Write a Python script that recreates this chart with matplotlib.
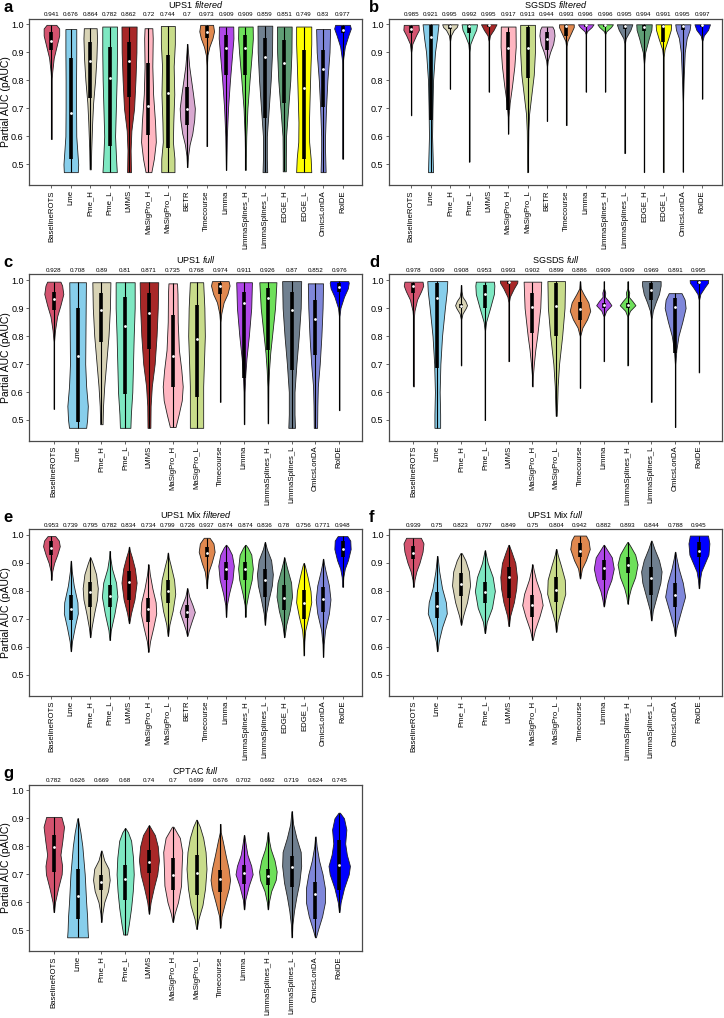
import numpy as np
import matplotlib
matplotlib.use('Agg')
import matplotlib.pyplot as plt

plt.rcParams['font.family'] = ['Liberation Sans', 'DejaVu Sans']
plt.rcParams['mathtext.fontset'] = 'custom'
plt.rcParams['mathtext.rm'] = 'Liberation Sans'
plt.rcParams['mathtext.it'] = 'Liberation Sans:italic'

# ---------------- data ----------------
methods_16 = ['BaselineROTS', 'Lme', 'Pme_H', 'Pme_L', 'LMMS', 'MaSigPro_H', 'MaSigPro_L', 'BETR',
              'Timecourse', 'Limma', 'LimmaSplines_H', 'LimmaSplines_L', 'EDGE_H', 'EDGE_L',
              'OmicsLonDA', 'RolDE']
methods_13 = ['BaselineROTS', 'Lme', 'Pme_H', 'Pme_L', 'LMMS', 'MaSigPro_H', 'MaSigPro_L',
              'Timecourse', 'Limma', 'LimmaSplines_H', 'LimmaSplines_L', 'OmicsLonDA', 'RolDE']

colors = {'BaselineROTS': '#D4536F', 'Lme': '#87CEEB', 'Pme_H': '#D8D3B5', 'Pme_L': '#7EE8C2',
          'LMMS': '#A82828', 'MaSigPro_H': '#FFB6C1', 'MaSigPro_L': '#C8DC8A', 'BETR': '#D8A8D0',
          'Timecourse': '#E0884F', 'Limma': '#B048E8', 'LimmaSplines_H': '#6EE05A',
          'LimmaSplines_L': '#708090', 'EDGE_H': '#5F9E75', 'EDGE_L': '#FFFF00',
          'OmicsLonDA': '#7F87DA', 'RolDE': '#0000FF'}

# Panel a: UPS1 filtered
a_means = [0.941, 0.676, 0.864, 0.782, 0.862, 0.72, 0.744, 0.7, 0.973, 0.909, 0.909, 0.859, 0.851, 0.749, 0.83, 0.977]
a_medians = [0.942, 0.682, 0.869, 0.807, 0.869, 0.71, 0.755, 0.698, 0.974, 0.917, 0.917, 0.885, 0.863, 0.774, 0.839, 0.98]
a_q1 = [0.908, 0.518, 0.736, 0.564, 0.742, 0.605, 0.56, 0.64, 0.95, 0.819, 0.819, 0.664, 0.718, 0.52, 0.706, 0.968]
a_q3 = [0.974, 0.879, 0.938, 0.92, 0.938, 0.861, 0.89, 0.777, 0.994, 0.962, 0.962, 0.95, 0.944, 0.908, 0.908, 0.994]
a_shapes = [
    [(0.59, 0.01), (0.80, 0.01), (0.83, 0.04), (0.88, 0.12), (0.92, 0.26), (0.96, 0.40), (0.985, 0.40), (0.998, 0.25)],
    [(0.472, 0.36), (0.50, 0.38), (0.55, 0.33), (0.60, 0.28), (0.70, 0.27), (0.80, 0.27), (0.90, 0.28), (0.983, 0.28)],
    [(0.482, 0.03), (0.55, 0.05), (0.65, 0.10), (0.72, 0.15), (0.80, 0.25), (0.88, 0.32), (0.95, 0.35), (0.986, 0.33)],
    [(0.472, 0.37), (0.52, 0.33), (0.60, 0.28), (0.70, 0.32), (0.80, 0.36), (0.90, 0.38), (0.992, 0.38)],
    [(0.472, 0.10), (0.55, 0.08), (0.62, 0.12), (0.70, 0.26), (0.80, 0.33), (0.90, 0.38), (0.992, 0.39)],
    [(0.472, 0.15), (0.52, 0.28), (0.58, 0.38), (0.65, 0.34), (0.75, 0.24), (0.85, 0.20), (0.95, 0.22), (0.986, 0.20)],
    [(0.472, 0.34), (0.52, 0.34), (0.58, 0.26), (0.65, 0.28), (0.75, 0.33), (0.85, 0.30), (0.93, 0.36), (0.994, 0.36)],
    [(0.49, 0.01), (0.53, 0.04), (0.57, 0.12), (0.61, 0.26), (0.66, 0.36), (0.70, 0.39), (0.75, 0.30), (0.80, 0.20), (0.85, 0.10), (0.90, 0.04), (0.93, 0.01)],
    [(0.565, 0.01), (0.85, 0.01), (0.89, 0.04), (0.92, 0.14), (0.95, 0.30), (0.975, 0.38), (0.998, 0.33)],
    [(0.48, 0.01), (0.60, 0.04), (0.70, 0.10), (0.80, 0.20), (0.90, 0.32), (0.95, 0.38), (0.992, 0.37)],
    [(0.48, 0.01), (0.60, 0.04), (0.70, 0.10), (0.80, 0.21), (0.90, 0.33), (0.95, 0.38), (0.992, 0.37)],
    [(0.472, 0.12), (0.52, 0.10), (0.60, 0.10), (0.70, 0.20), (0.80, 0.30), (0.90, 0.37), (0.995, 0.38)],
    [(0.475, 0.08), (0.52, 0.08), (0.60, 0.09), (0.70, 0.20), (0.80, 0.31), (0.90, 0.37), (0.992, 0.38)],
    [(0.472, 0.39), (0.52, 0.36), (0.58, 0.28), (0.65, 0.27), (0.75, 0.31), (0.85, 0.35), (0.93, 0.39), (0.992, 0.39)],
    [(0.472, 0.13), (0.55, 0.10), (0.60, 0.10), (0.70, 0.15), (0.80, 0.22), (0.90, 0.33), (0.983, 0.36)],
    [(0.52, 0.01), (0.86, 0.01), (0.88, 0.04), (0.92, 0.12), (0.96, 0.30), (0.985, 0.43), (0.998, 0.38)],
]

# Panel b: SGSDS filtered
b_means = [0.985, 0.921, 0.995, 0.992, 0.995, 0.917, 0.913, 0.944, 0.993, 0.996, 0.996, 0.995, 0.994, 0.991, 0.995, 0.997]
b_medians = [0.982, 0.956, 0.995, 0.993, 0.998, 0.917, 0.914, 0.946, 0.994, 0.998, 0.998, 0.995, 0.99, 0.994, 0.995, 0.998]
b_q1 = [0.968, 0.66, 0.985, 0.968, 0.99, 0.694, 0.81, 0.908, 0.96, 0.992, 0.992, 0.985, 0.975, 0.938, 0.98, 0.99]
b_q3 = [0.994, 0.998, 0.999, 0.998, 0.999, 0.974, 0.99, 0.974, 0.999, 0.999, 0.999, 0.999, 0.999, 0.998, 0.999, 0.999]
b_shapes = [
    [(0.675, 0.01), (0.90, 0.01), (0.93, 0.06), (0.96, 0.25), (0.98, 0.40), (0.998, 0.38)],
    [(0.472, 0.13), (0.50, 0.12), (0.60, 0.08), (0.70, 0.10), (0.80, 0.13), (0.90, 0.23), (0.95, 0.33), (1.0, 0.41)],
    [(0.77, 0.01), (0.94, 0.01), (0.96, 0.05), (0.98, 0.20), (0.99, 0.35), (1.0, 0.40)],
    [(0.51, 0.01), (0.90, 0.01), (0.93, 0.05), (0.96, 0.22), (0.98, 0.35), (1.0, 0.40)],
    [(0.76, 0.01), (0.94, 0.01), (0.96, 0.06), (0.98, 0.25), (1.0, 0.40)],
    [(0.61, 0.01), (0.67, 0.02), (0.72, 0.08), (0.78, 0.20), (0.85, 0.32), (0.92, 0.39), (0.992, 0.38)],
    [(0.472, 0.02), (0.56, 0.03), (0.62, 0.04), (0.68, 0.08), (0.75, 0.20), (0.82, 0.32), (0.90, 0.38), (0.998, 0.38)],
    [(0.655, 0.01), (0.85, 0.01), (0.87, 0.04), (0.90, 0.16), (0.93, 0.32), (0.96, 0.39), (0.98, 0.36), (0.992, 0.28)],
    [(0.64, 0.01), (0.92, 0.01), (0.94, 0.05), (0.97, 0.25), (0.99, 0.38), (1.0, 0.38)],
    [(0.76, 0.01), (0.965, 0.01), (0.975, 0.06), (0.99, 0.30), (1.0, 0.40)],
    [(0.76, 0.01), (0.965, 0.01), (0.975, 0.06), (0.99, 0.30), (1.0, 0.40)],
    [(0.54, 0.01), (0.93, 0.01), (0.95, 0.06), (0.98, 0.30), (1.0, 0.40)],
    [(0.472, 0.01), (0.86, 0.01), (0.90, 0.06), (0.95, 0.25), (0.98, 0.38), (1.0, 0.40)],
    [(0.472, 0.01), (0.88, 0.01), (0.91, 0.06), (0.95, 0.25), (0.98, 0.38), (1.0, 0.40)],
    [(0.474, 0.01), (0.72, 0.01), (0.80, 0.04), (0.90, 0.10), (0.95, 0.20), (0.98, 0.35), (1.0, 0.39)],
    [(0.735, 0.01), (0.94, 0.01), (0.96, 0.08), (0.98, 0.30), (1.0, 0.40)],
]

# Panel c: UPS1 full
c_means = [0.928, 0.708, 0.89, 0.81, 0.871, 0.735, 0.768, 0.974, 0.911, 0.926, 0.87, 0.852, 0.976]
c_medians = [0.931, 0.728, 0.893, 0.835, 0.881, 0.728, 0.791, 0.98, 0.917, 0.934, 0.893, 0.859, 0.976]
c_q1 = [0.893, 0.493, 0.779, 0.594, 0.755, 0.618, 0.582, 0.95, 0.65, 0.75, 0.678, 0.731, 0.958]
c_q3 = [0.958, 0.9, 0.952, 0.94, 0.952, 0.875, 0.91, 0.99, 0.958, 0.97, 0.958, 0.928, 0.99]
c_shapes = [
    [(0.54, 0.01), (0.78, 0.01), (0.82, 0.05), (0.87, 0.14), (0.91, 0.28), (0.95, 0.40), (0.98, 0.35), (0.994, 0.28)],
    [(0.472, 0.36), (0.50, 0.40), (0.55, 0.43), (0.62, 0.36), (0.70, 0.32), (0.80, 0.33), (0.90, 0.34), (0.992, 0.35)],
    [(0.485, 0.05), (0.55, 0.07), (0.62, 0.12), (0.70, 0.20), (0.80, 0.30), (0.90, 0.36), (0.992, 0.38)],
    [(0.472, 0.22), (0.52, 0.24), (0.60, 0.30), (0.70, 0.33), (0.80, 0.36), (0.90, 0.40), (0.992, 0.40)],
    [(0.472, 0.06), (0.55, 0.07), (0.62, 0.12), (0.70, 0.24), (0.80, 0.32), (0.90, 0.37), (0.992, 0.39)],
    [(0.475, 0.12), (0.52, 0.25), (0.57, 0.38), (0.62, 0.42), (0.68, 0.36), (0.75, 0.26), (0.85, 0.21), (0.95, 0.20), (0.988, 0.18)],
    [(0.472, 0.28), (0.55, 0.28), (0.62, 0.28), (0.70, 0.31), (0.80, 0.35), (0.90, 0.33), (0.992, 0.28)],
    [(0.565, 0.01), (0.85, 0.01), (0.88, 0.04), (0.92, 0.14), (0.95, 0.30), (0.98, 0.39), (0.996, 0.35)],
    [(0.485, 0.01), (0.60, 0.02), (0.66, 0.05), (0.72, 0.10), (0.80, 0.20), (0.90, 0.30), (0.992, 0.33)],
    [(0.488, 0.01), (0.62, 0.02), (0.68, 0.05), (0.74, 0.10), (0.82, 0.20), (0.90, 0.30), (0.992, 0.36)],
    [(0.472, 0.14), (0.52, 0.12), (0.60, 0.12), (0.70, 0.20), (0.80, 0.30), (0.90, 0.38), (0.996, 0.40)],
    [(0.472, 0.07), (0.55, 0.08), (0.62, 0.10), (0.70, 0.18), (0.80, 0.25), (0.90, 0.30), (0.988, 0.32)],
    [(0.535, 0.01), (0.87, 0.01), (0.90, 0.05), (0.94, 0.20), (0.97, 0.36), (0.99, 0.40), (0.996, 0.38)],
]

# Panel d: SGSDS full
d_means = [0.978, 0.909, 0.908, 0.953, 0.993, 0.902, 0.899, 0.886, 0.909, 0.909, 0.969, 0.891, 0.995]
d_medians = [0.98, 0.934, 0.908, 0.95, 0.994, 0.902, 0.907, 0.895, 0.91, 0.91, 0.964, 0.902, 0.994]
d_q1 = [0.952, 0.684, 0.9, 0.899, 0.985, 0.809, 0.80, 0.857, 0.9, 0.9, 0.928, 0.74, 0.985]
d_q3 = [0.988, 0.988, 0.915, 0.982, 0.998, 0.952, 0.988, 0.922, 0.918, 0.918, 0.988, 0.934, 0.998]
d_shapes = [
    [(0.62, 0.01), (0.86, 0.01), (0.89, 0.04), (0.93, 0.15), (0.96, 0.32), (0.98, 0.41), (0.994, 0.38)],
    [(0.472, 0.12), (0.52, 0.12), (0.60, 0.10), (0.70, 0.13), (0.80, 0.20), (0.90, 0.32), (0.96, 0.40), (0.996, 0.42)],
    [(0.695, 0.01), (0.86, 0.01), (0.88, 0.06), (0.90, 0.20), (0.91, 0.25), (0.925, 0.18), (0.94, 0.06), (0.96, 0.02), (0.982, 0.01)],
    [(0.50, 0.01), (0.82, 0.01), (0.85, 0.05), (0.90, 0.22), (0.95, 0.38), (0.98, 0.40), (0.994, 0.38)],
    [(0.71, 0.01), (0.92, 0.01), (0.94, 0.05), (0.97, 0.22), (0.99, 0.36), (0.998, 0.37)],
    [(0.62, 0.01), (0.66, 0.02), (0.70, 0.06), (0.75, 0.12), (0.80, 0.20), (0.90, 0.33), (0.994, 0.37)],
    [(0.515, 0.02), (0.56, 0.04), (0.62, 0.06), (0.70, 0.12), (0.80, 0.25), (0.90, 0.35), (0.996, 0.37)],
    [(0.615, 0.01), (0.80, 0.01), (0.83, 0.10), (0.86, 0.30), (0.89, 0.43), (0.92, 0.35), (0.95, 0.15), (0.97, 0.03), (0.995, 0.01)],
    [(0.71, 0.01), (0.87, 0.01), (0.89, 0.10), (0.91, 0.32), (0.925, 0.20), (0.94, 0.05), (0.955, 0.06), (0.97, 0.01), (0.995, 0.01)],
    [(0.695, 0.01), (0.87, 0.01), (0.89, 0.10), (0.91, 0.33), (0.925, 0.20), (0.94, 0.05), (0.955, 0.07), (0.97, 0.01), (0.995, 0.01)],
    [(0.565, 0.01), (0.86, 0.01), (0.89, 0.06), (0.92, 0.18), (0.95, 0.32), (0.98, 0.39), (0.996, 0.39)],
    [(0.475, 0.01), (0.70, 0.01), (0.75, 0.05), (0.80, 0.14), (0.85, 0.30), (0.90, 0.44), (0.93, 0.40), (0.953, 0.27)],
    [(0.67, 0.01), (0.93, 0.01), (0.95, 0.06), (0.975, 0.25), (0.99, 0.38), (1.0, 0.39)],
]

# Panel e: UPS1 Mix filtered
e_means = [0.953, 0.739, 0.795, 0.782, 0.834, 0.734, 0.799, 0.726, 0.937, 0.874, 0.874, 0.836, 0.78, 0.756, 0.771, 0.948]
e_medians = [0.952, 0.736, 0.795, 0.782, 0.833, 0.735, 0.80, 0.724, 0.937, 0.877, 0.877, 0.839, 0.776, 0.758, 0.77, 0.949]
e_q1 = [0.93, 0.696, 0.744, 0.742, 0.768, 0.69, 0.756, 0.702, 0.92, 0.839, 0.839, 0.78, 0.733, 0.699, 0.726, 0.92]
e_q3 = [0.98, 0.786, 0.833, 0.821, 0.873, 0.774, 0.839, 0.75, 0.958, 0.905, 0.905, 0.88, 0.82, 0.804, 0.815, 0.98]
e_shapes = [
    [(0.84, 0.01), (0.87, 0.04), (0.90, 0.14), (0.93, 0.30), (0.96, 0.43), (0.98, 0.38), (0.996, 0.20)],
    [(0.585, 0.01), (0.62, 0.06), (0.67, 0.20), (0.72, 0.36), (0.76, 0.34), (0.82, 0.15), (0.87, 0.05), (0.908, 0.01)],
    [(0.635, 0.01), (0.67, 0.07), (0.72, 0.20), (0.77, 0.35), (0.81, 0.39), (0.86, 0.30), (0.90, 0.12), (0.92, 0.01)],
    [(0.625, 0.01), (0.66, 0.06), (0.72, 0.25), (0.78, 0.40), (0.83, 0.33), (0.88, 0.12), (0.92, 0.03), (0.943, 0.01)],
    [(0.685, 0.01), (0.72, 0.10), (0.77, 0.28), (0.83, 0.39), (0.88, 0.30), (0.92, 0.15), (0.945, 0.04), (0.958, 0.01)],
    [(0.583, 0.01), (0.62, 0.08), (0.67, 0.25), (0.72, 0.40), (0.76, 0.37), (0.81, 0.20), (0.86, 0.07), (0.895, 0.01)],
    [(0.64, 0.01), (0.68, 0.08), (0.73, 0.25), (0.79, 0.38), (0.84, 0.32), (0.89, 0.15), (0.92, 0.04), (0.937, 0.01)],
    [(0.64, 0.01), (0.66, 0.08), (0.69, 0.22), (0.725, 0.39), (0.75, 0.27), (0.78, 0.10), (0.81, 0.01)],
    [(0.81, 0.01), (0.84, 0.04), (0.87, 0.10), (0.90, 0.25), (0.94, 0.41), (0.97, 0.35), (0.99, 0.15)],
    [(0.708, 0.01), (0.75, 0.04), (0.79, 0.15), (0.84, 0.33), (0.89, 0.40), (0.93, 0.30), (0.955, 0.12), (0.965, 0.01)],
    [(0.708, 0.01), (0.75, 0.04), (0.79, 0.15), (0.84, 0.32), (0.88, 0.38), (0.93, 0.30), (0.955, 0.12), (0.965, 0.01)],
    [(0.68, 0.01), (0.72, 0.06), (0.77, 0.20), (0.82, 0.36), (0.86, 0.41), (0.91, 0.32), (0.95, 0.10), (0.975, 0.01)],
    [(0.635, 0.01), (0.68, 0.10), (0.73, 0.28), (0.78, 0.40), (0.83, 0.35), (0.88, 0.15), (0.91, 0.04), (0.92, 0.01)],
    [(0.57, 0.01), (0.62, 0.03), (0.66, 0.08), (0.71, 0.25), (0.76, 0.39), (0.80, 0.35), (0.85, 0.20), (0.89, 0.06), (0.90, 0.01)],
    [(0.565, 0.01), (0.61, 0.03), (0.66, 0.10), (0.72, 0.30), (0.77, 0.38), (0.82, 0.30), (0.87, 0.13), (0.90, 0.04), (0.915, 0.01)],
    [(0.815, 0.01), (0.85, 0.04), (0.88, 0.12), (0.91, 0.28), (0.95, 0.42), (0.98, 0.40), (0.996, 0.25)],
]

# Panel f: UPS1 Mix full
f_means = [0.939, 0.75, 0.823, 0.797, 0.849, 0.75, 0.804, 0.942, 0.882, 0.893, 0.844, 0.788, 0.945]
f_medians = [0.937, 0.746, 0.824, 0.795, 0.849, 0.75, 0.804, 0.943, 0.881, 0.893, 0.845, 0.786, 0.943]
f_q1 = [0.915, 0.702, 0.781, 0.756, 0.774, 0.706, 0.762, 0.92, 0.839, 0.863, 0.786, 0.744, 0.92]
f_q3 = [0.962, 0.798, 0.863, 0.833, 0.887, 0.786, 0.851, 0.97, 0.91, 0.923, 0.887, 0.827, 0.975]
f_shapes = [
    [(0.815, 0.01), (0.84, 0.04), (0.87, 0.12), (0.90, 0.25), (0.94, 0.38), (0.97, 0.42), (0.99, 0.31)],
    [(0.585, 0.01), (0.62, 0.06), (0.67, 0.20), (0.72, 0.40), (0.76, 0.36), (0.81, 0.20), (0.87, 0.08), (0.925, 0.01)],
    [(0.68, 0.01), (0.71, 0.08), (0.76, 0.25), (0.82, 0.38), (0.87, 0.33), (0.91, 0.18), (0.935, 0.03)],
    [(0.65, 0.01), (0.69, 0.08), (0.74, 0.30), (0.80, 0.42), (0.85, 0.33), (0.90, 0.12), (0.945, 0.01)],
    [(0.675, 0.01), (0.71, 0.06), (0.76, 0.22), (0.81, 0.32), (0.85, 0.35), (0.90, 0.28), (0.94, 0.12), (0.965, 0.01)],
    [(0.625, 0.01), (0.66, 0.10), (0.71, 0.30), (0.75, 0.43), (0.79, 0.35), (0.84, 0.15), (0.88, 0.04), (0.895, 0.01)],
    [(0.655, 0.01), (0.69, 0.06), (0.74, 0.22), (0.79, 0.38), (0.84, 0.36), (0.89, 0.20), (0.93, 0.06), (0.95, 0.01)],
    [(0.845, 0.01), (0.86, 0.04), (0.88, 0.08), (0.91, 0.25), (0.95, 0.41), (0.98, 0.36), (0.998, 0.25)],
    [(0.745, 0.01), (0.77, 0.06), (0.80, 0.14), (0.84, 0.32), (0.88, 0.42), (0.92, 0.34), (0.95, 0.12), (0.965, 0.01)],
    [(0.755, 0.01), (0.78, 0.05), (0.81, 0.14), (0.85, 0.32), (0.895, 0.42), (0.93, 0.32), (0.96, 0.12), (0.975, 0.01)],
    [(0.695, 0.01), (0.73, 0.06), (0.78, 0.22), (0.83, 0.38), (0.87, 0.43), (0.91, 0.32), (0.95, 0.13), (0.98, 0.01)],
    [(0.64, 0.01), (0.67, 0.06), (0.72, 0.22), (0.78, 0.42), (0.83, 0.32), (0.88, 0.15), (0.92, 0.05), (0.94, 0.01)],
    [(0.81, 0.01), (0.84, 0.04), (0.87, 0.10), (0.90, 0.25), (0.93, 0.40), (0.97, 0.44), (0.998, 0.38)],
]

# Panel g: CPTAC full
g_means = [0.782, 0.626, 0.669, 0.68, 0.74, 0.7, 0.699, 0.676, 0.702, 0.692, 0.719, 0.624, 0.745]
g_medians = [0.796, 0.622, 0.671, 0.685, 0.745, 0.697, 0.703, 0.685, 0.705, 0.693, 0.727, 0.629, 0.733]
g_q1 = [0.709, 0.542, 0.643, 0.607, 0.703, 0.643, 0.625, 0.637, 0.667, 0.661, 0.655, 0.542, 0.643]
g_q3 = [0.842, 0.718, 0.697, 0.733, 0.786, 0.757, 0.768, 0.715, 0.733, 0.72, 0.765, 0.673, 0.822]
g_shapes = [
    [(0.565, 0.01), (0.60, 0.05), (0.65, 0.18), (0.70, 0.33), (0.73, 0.35), (0.77, 0.28), (0.82, 0.36), (0.87, 0.43), (0.905, 0.32)],
    [(0.475, 0.44), (0.50, 0.42), (0.55, 0.40), (0.60, 0.36), (0.70, 0.30), (0.75, 0.25), (0.80, 0.20), (0.85, 0.12), (0.90, 0.01)],
    [(0.53, 0.01), (0.56, 0.04), (0.60, 0.12), (0.64, 0.28), (0.68, 0.35), (0.72, 0.30), (0.75, 0.12), (0.785, 0.01)],
    [(0.485, 0.08), (0.52, 0.15), (0.58, 0.25), (0.64, 0.32), (0.70, 0.36), (0.76, 0.33), (0.82, 0.25), (0.85, 0.12), (0.865, 0.01)],
    [(0.56, 0.01), (0.60, 0.07), (0.65, 0.20), (0.70, 0.35), (0.75, 0.42), (0.80, 0.37), (0.84, 0.25), (0.875, 0.01)],
    [(0.53, 0.01), (0.56, 0.08), (0.60, 0.22), (0.66, 0.35), (0.72, 0.37), (0.78, 0.40), (0.83, 0.30), (0.87, 0.03)],
    [(0.505, 0.01), (0.54, 0.08), (0.59, 0.25), (0.65, 0.36), (0.72, 0.42), (0.78, 0.38), (0.83, 0.28), (0.87, 0.14), (0.895, 0.01)],
    [(0.51, 0.01), (0.55, 0.05), (0.60, 0.20), (0.65, 0.36), (0.68, 0.41), (0.72, 0.35), (0.77, 0.22), (0.82, 0.10), (0.85, 0.02), (0.88, 0.01)],
    [(0.575, 0.01), (0.61, 0.05), (0.66, 0.20), (0.70, 0.36), (0.73, 0.30), (0.77, 0.14), (0.80, 0.08), (0.84, 0.01)],
    [(0.575, 0.01), (0.60, 0.04), (0.64, 0.14), (0.68, 0.33), (0.71, 0.37), (0.75, 0.28), (0.79, 0.12), (0.82, 0.05), (0.85, 0.01)],
    [(0.475, 0.01), (0.52, 0.03), (0.57, 0.10), (0.62, 0.20), (0.67, 0.32), (0.73, 0.40), (0.78, 0.38), (0.83, 0.20), (0.88, 0.06), (0.925, 0.01)],
    [(0.475, 0.02), (0.50, 0.10), (0.55, 0.28), (0.60, 0.40), (0.65, 0.40), (0.70, 0.30), (0.75, 0.15), (0.80, 0.05), (0.835, 0.01)],
    [(0.565, 0.01), (0.60, 0.06), (0.65, 0.20), (0.70, 0.40), (0.73, 0.45), (0.77, 0.32), (0.81, 0.25), (0.86, 0.30), (0.90, 0.20), (0.92, 0.03)],
]

y_ticks = [0.5, 0.6, 0.7, 0.8, 0.9, 1.0]
y_tick_labels = ['0.5', '0.6', '0.7', '0.8', '0.9', '1.0']

# ---------------- figure ----------------
W, H = 724, 1018
fig = plt.figure(figsize=(W / 100, H / 100), dpi=100)
AX_W, AX_H = 333.0, 166.6
SPINE = '#4a4a4a'


def draw_panel(letter, left_px, top_px, methods, means, medians, q1, q3, shapes, title, ylabel, pads):
    ax = fig.add_axes([left_px / W, 1 - (top_px + AX_H) / H, AX_W / W, AX_H / H])
    n = len(methods)
    pos = np.arange(n)
    stats, widths = [], []
    for sh, med, mu in zip(shapes, medians, means):
        ys = np.array([p[0] for p in sh])
        ws = np.array([p[1] for p in sh])
        stats.append(dict(coords=ys, vals=ws, mean=mu, median=med, min=ys[0], max=ys[-1]))
        widths.append(2 * ws.max())
    parts = ax.violin(stats, positions=pos, widths=widths, showmeans=False,
                      showextrema=False, showmedians=False)
    for body, m in zip(parts['bodies'], methods):
        body.set_facecolor(colors[m])
        body.set_edgecolor('#222222')
        body.set_linewidth(0.6)
        body.set_alpha(1)
        body.set_zorder(2)
    ax.vlines(pos, [s['min'] for s in stats], [s['max'] for s in stats],
              color='black', lw=0.8, zorder=3)
    ax.vlines(pos, q1, q3, color='black', lw=2.6, zorder=4)
    ax.scatter(pos, medians, s=4, c='white', zorder=5, linewidths=0)

    ax.set_xlim(-pads[0], n - 1 + pads[1])
    ax.set_ylim(0.425, 1.02)
    ax.set_yticks(y_ticks)
    ax.set_yticklabels(y_tick_labels)
    ax.set_xticks(pos)
    ax.set_xticklabels(methods, rotation=90)
    ax.tick_params(axis='both', length=2.5, width=0.6, color=SPINE)
    ax.tick_params(axis='x', labelsize=5.6, pad=1.0)
    ax.tick_params(axis='y', labelsize=6.5, pad=1.5)
    for sp in ax.spines.values():
        sp.set_color(SPINE)
        sp.set_linewidth(0.9)
    if ylabel:
        ax.set_ylabel('Partial AUC (pAUC)', fontsize=7.5)
        ax.yaxis.set_label_coords(-0.056, 0.5)
    for i, v in enumerate(means):
        ax.text(i, 1.008, str(v), transform=ax.get_xaxis_transform(), ha='center',
                va='bottom', fontsize=4.5)
    ax.text(0.5, 1.0666, title, transform=ax.transAxes, ha='center', va='baseline', fontsize=6.5)
    lx = 3 if left_px < 200 else 369
    fig.text(lx / W, 1 - (top_px - 7) / H, letter, fontsize=12, fontweight='bold',
             ha='left', va='baseline')
    return ax


P16 = (1.14, 1.02)
P13 = (1.03, 0.97)
draw_panel('a', 29.3, 18.7, methods_16, a_means, a_medians, a_q1, a_q3, a_shapes,
           'UPS1 $\\mathit{filtered}$', True, P16)
draw_panel('b', 389.0, 18.7, methods_16, b_means, b_medians, b_q1, b_q3, b_shapes,
           'SGSDS $\\mathit{filtered}$', False, P16)
draw_panel('c', 29.3, 274.4, methods_13, c_means, c_medians, c_q1, c_q3, c_shapes,
           'UPS1 $\\mathit{full}$', True, P13)
draw_panel('d', 389.0, 274.4, methods_13, d_means, d_medians, d_q1, d_q3, d_shapes,
           'SGSDS $\\mathit{full}$', False, P13)
draw_panel('e', 29.3, 529.4, methods_16, e_means, e_medians, e_q1, e_q3, e_shapes,
           'UPS1 Mix $\\mathit{filtered}$', True, P16)
draw_panel('f', 389.0, 529.4, methods_13, f_means, f_medians, f_q1, f_q3, f_shapes,
           'UPS1 Mix $\\mathit{full}$', False, P13)
draw_panel('g', 29.3, 784.7, methods_13, g_means, g_medians, g_q1, g_q3, g_shapes,
           'CPTAC $\\mathit{full}$', True, P13)

fig.savefig('out.png', dpi=100)
